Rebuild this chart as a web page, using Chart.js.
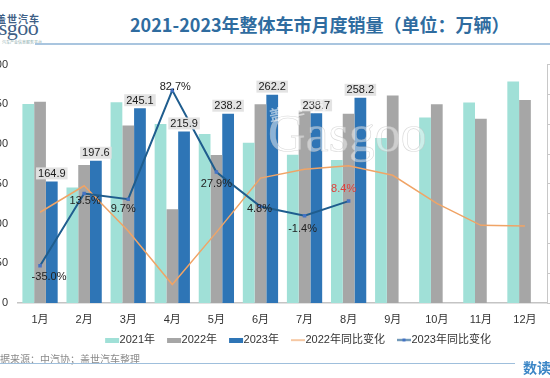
<!DOCTYPE html>
<html><head><meta charset="utf-8">
<script src="https://cdn.jsdelivr.net/npm/chart.js@4/dist/chart.umd.min.js"></script>
<style>
html,body{margin:0;padding:0;width:550px;height:378px;overflow:hidden;background:#fff;position:relative;font-family:"Liberation Sans","Noto Sans CJK SC",sans-serif;}
#wrap{position:absolute;left:-22px;top:48px;width:629px;height:320px;}
.abs{position:absolute;white-space:nowrap;}
</style></head><body>
<div class="abs" style="left:-4px;top:11px;font:bold 10px 'Noto Sans CJK SC';color:#3f5f86;letter-spacing:1px;">盖世汽车</div>
<div class="abs" style="left:-26px;top:15px;font:22px 'Liberation Serif';color:#3f5f86;letter-spacing:-0.5px;">Gasgoo</div>
<div class="abs" style="left:2px;top:39px;font:4px 'Noto Sans CJK SC';color:#8aa;">汽车产业信息服务平台</div>
<div class="abs" style="left:35px;top:43px;width:515px;height:2px;background:#a9c5df;"></div>
<div class="abs" style="left:130px;top:11px;font:bold 18px 'Noto Sans CJK SC';color:#2f6c9f;">2021-2023年整体车市月度销量（单位：万辆）</div>
<div id="wrap"><canvas id="c"></canvas></div>
<div class="abs" style="left:-10px;top:351px;font:10px 'Noto Sans CJK SC';color:#8a8a8a;">数据来源：中汽协；盖世汽车整理</div>
<div class="abs" style="left:0px;top:363px;width:515px;height:1px;background:#9fbfdc;"></div>
<div class="abs" style="left:523px;top:357px;font:bold 14px 'Noto Sans CJK SC';color:#3b86c6;">数读</div>
<script>
const categories = ['1月','2月','3月','4月','5月','6月','7月','8月','9月','10月','11月','12月'];
const sales2021 = [250.3,145.5,252.6,225.2,212.8,201.5,186.4,179.9,207.5,233.3,252.2,278.6];
const sales2022 = [253.1,173.7,223.4,118.1,186.2,250.2,242.0,238.3,261.0,250.0,232.0,255.6];
const sales2023 = [153,179,245.1,215.9,238.2,262.2,238.7,258.2,null,null,null,null];
const labels2023 = ['164.9','197.6','245.1','215.9','238.2','262.2','238.7','258.2'];
const yoy2022 = [0.9,18.7,-11.7,-47.6,-12.6,23.8,29.7,32.1,25.7,6.9,-7.9,-8.4];
const yoy2023 = [-35.0,13.5,9.7,82.7,27.9,4.8,-1.4,8.4,null,null,null,null];
const leftTicks = [0,50,100,150,200,250,300];
const rightTicks = [-60,-40,-20,0,20,40,60,80,100];

const FONT = '"Liberation Sans","Noto Sans CJK SC",sans-serif';
const C21='#a0e0d7', C22='#a6a6a6', C23='#2e75b6', CO='#f0a466', CB='#1f5d8e', CM='#4472c4';

// legend icons: 28px wide canvas, mark drawn in the right half (x 13..27)
function icon(draw){const c=document.createElement('canvas');c.width=28;c.height=5;draw(c.getContext('2d'));return c;}
const icons=[
 icon(g=>{g.fillStyle=C21;g.fillRect(13,0,14,5);}),
 icon(g=>{g.fillStyle=C22;g.fillRect(13,0,14,5);}),
 icon(g=>{g.fillStyle=C23;g.fillRect(13,0,14,5);}),
 icon(g=>{g.fillStyle=CO;g.fillRect(13,2,14,1.2);}),
 icon(g=>{g.fillStyle=CB;g.fillRect(13,1.75,14,1.5);g.fillStyle=CM;g.fillRect(18.5,1,3,3);})
];

const yoyLabelStyle = {
  offsets: [[9,11],[1,7],[-5,10],[3,-3],[0,12],[-1,3],[-2,13],[-5,-12]],
  colors: ['#222','#222','#222','#222','#222','#222','#222','#e0403a']
};

const labelPlugin = {
  id:'valueLabels',
  afterDatasetsDraw(chart){
    const ctx=chart.ctx;
    ctx.save();
    ctx.font='11px '+FONT;
    ctx.textAlign='center';ctx.textBaseline='middle';
    const mb=chart.getDatasetMeta(2);
    mb.data.forEach((el,i)=>{
      const t=labels2023[i]; if(t==null) return;
      const w=ctx.measureText(t).width+4, h=12;
      const cx=el.x, by=el.y-2;
      ctx.fillStyle='rgba(226,226,226,0.95)';
      ctx.fillRect(cx-w/2,by-h,w,h);
      ctx.fillStyle='#1a1a1a';
      ctx.fillText(t,cx,by-h/2+0.5);
    });
    const ml=chart.getDatasetMeta(4);
    ml.data.forEach((el,i)=>{
      const v=yoy2023[i]; if(v==null) return;
      const o=yoyLabelStyle.offsets[i];
      ctx.fillStyle=yoyLabelStyle.colors[i];
      ctx.fillText(v.toFixed(1)+'%',el.x+o[0],el.y+o[1]);
    });
    ctx.restore();
  }
};

new Chart(document.getElementById('c'),{
  data:{
    labels:categories,
    datasets:[
      {type:'bar',label:'2021年',data:sales2021,backgroundColor:C21,yAxisID:'y',order:2},
      {type:'bar',label:'2022年',data:sales2022,backgroundColor:C22,yAxisID:'y',order:2},
      {type:'bar',label:'2023年',data:sales2023,backgroundColor:C23,yAxisID:'y',order:2},
      {type:'line',label:'2022年同比变化',data:yoy2022,borderColor:CO,borderWidth:1.5,pointRadius:0,yAxisID:'y1',order:1,tension:0},
      {type:'line',label:'2023年同比变化',data:yoy2023,borderColor:CB,borderWidth:2,pointStyle:'rect',pointRadius:2.5,pointBackgroundColor:CM,pointBorderColor:CM,pointBorderWidth:0,yAxisID:'y1',order:0,tension:0}
    ]
  },
  options:{
    responsive:true,maintainAspectRatio:false,animation:false,
    datasets:{bar:{categoryPercentage:0.8,barPercentage:1.0}},
    layout:{padding:{top:13,bottom:12.5,left:4,right:0}},
    plugins:{
      tooltip:{enabled:false},
      legend:{position:'bottom',
        labels:{usePointStyle:true,pointStyleWidth:16,padding:5,color:'#333',font:{family:FONT,size:11},
          generateLabels(chart){
            return chart.data.datasets.map((d,i)=>({text:d.label,pointStyle:icons[i],fillStyle:'transparent',strokeStyle:'transparent',lineWidth:0,datasetIndex:i,fontColor:'#333'}));
          }}}
    },
    scales:{
      x:{grid:{display:false,drawTicks:false},border:{display:true,color:'#c4c4c4',width:1.5},
         afterFit(s){s.height=26.5;},
         ticks:{color:'#333',font:{family:FONT,size:11},padding:10}},
      y:{position:'left',min:0,max:300,
         afterBuildTicks(s){s.ticks=leftTicks.map(v=>({value:v}));},
         afterFit(s){s.width=36;},
         grid:{display:false,drawTicks:false},border:{display:false},
         ticks:{color:'#333',font:{family:FONT,size:11},padding:10}},
      y1:{position:'right',min:-60,max:100,
         afterBuildTicks(s){s.ticks=rightTicks.map(v=>({value:v}));},
         afterFit(s){s.width=60;},
         grid:{drawOnChartArea:false,drawTicks:true,tickLength:4,color:'#c8c8c8'},
         border:{display:true,color:'#c8c8c8'},
         ticks:{color:'#333',font:{family:FONT,size:11},padding:4,callback:v=>v+'%'}}
    }
  },
  plugins:[labelPlugin]
});
</script>
<div class="abs" style="left:268px;top:96px;font:bold 15px 'Noto Sans CJK SC';color:rgba(255,255,255,0.55);letter-spacing:6px;transform:rotate(-12deg);">盖世汽车</div>
<div class="abs" style="left:268px;top:104px;font:52px 'Liberation Serif';color:rgba(255,255,255,0.45);-webkit-text-stroke:0.6px rgba(190,190,190,0.6);">Gasgoo</div>
</body></html>
